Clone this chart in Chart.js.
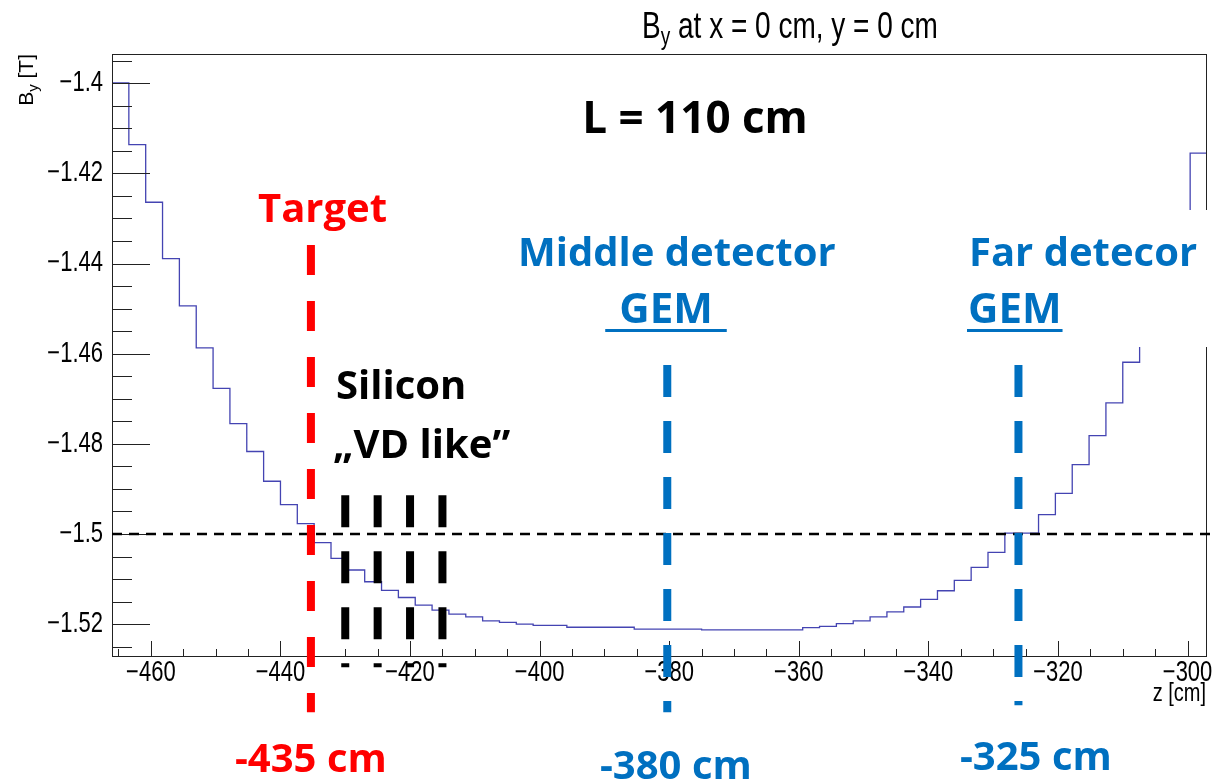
<!DOCTYPE html>
<html>
<head>
<meta charset="utf-8">
<script src="https://cdn.jsdelivr.net/npm/chart.js@4.4.0/dist/chart.umd.min.js"></script>
<style>
    html, body { margin: 0; padding: 0; background: #fff; }
    #wrap { width: 1212px; height: 783px; position: relative; }
</style>
</head>
<body>
<div id="wrap"><canvas id="byChart"></canvas></div>
<script>
// histogram bin edges, z [cm] (65 bins)
const zEdges = [
    -466.0, -463.4, -460.8, -458.2, -455.6, -453.0, -450.4, -447.8, -445.2, -442.6,
    -440.0, -437.4, -434.8, -432.2, -429.6, -427.0, -424.4, -421.8, -419.2, -416.6,
    -414.0, -411.4, -408.8, -406.2, -403.6, -401.0, -398.4, -395.8, -393.2, -390.6,
    -388.0, -385.4, -382.8, -380.2, -377.6, -375.0, -372.4, -369.8, -367.2, -364.6,
    -362.0, -359.4, -356.8, -354.2, -351.6, -349.0, -346.4, -343.8, -341.2, -338.6,
    -336.0, -333.4, -330.8, -328.2, -325.6, -323.0, -320.4, -317.8, -315.2, -312.6,
    -310.0, -307.4, -304.8, -302.2, -299.6, -297.0
];
// B_y [T] per bin
const byValues = [
    -1.3999, -1.4136, -1.4264, -1.4389, -1.4494, -1.4587, -1.4677, -1.4755, -1.4817, -1.4883,
    -1.4935, -1.4977, -1.5019, -1.5054, -1.5080, -1.5106, -1.5125, -1.5141, -1.5158, -1.5169,
    -1.5178, -1.5184, -1.5193, -1.5196, -1.5200, -1.5203, -1.5203, -1.5207, -1.5207, -1.5207,
    -1.5207, -1.5211, -1.5211, -1.5211, -1.5211, -1.5213, -1.5213, -1.5213, -1.5213, -1.5213,
    -1.5213, -1.5208, -1.5205, -1.5199, -1.5193, -1.5184, -1.5173, -1.5162, -1.5145, -1.5126,
    -1.5103, -1.5074, -1.5041, -1.4998, -1.4998, -1.4957, -1.4910, -1.4846, -1.4782, -1.4709,
    -1.4619, -1.4520, -1.4430, -1.4320, -1.4155
];

const xTickValues = [-460, -440, -420, -400, -380, -360, -340, -320, -300];
const xTickLabels = ['\u2212460', '\u2212440', '\u2212420', '\u2212400', '\u2212380', '\u2212360', '\u2212340', '\u2212320', '\u2212300'];
const yTickValues = [-1.4, -1.42, -1.44, -1.46, -1.48, -1.5, -1.52];
const yTickLabels = ['\u22121.4', '\u22121.42', '\u22121.44', '\u22121.46', '\u22121.48', '\u22121.5', '\u22121.52'];

const refLevel = -1.5;
const targetZ = -435.3;
const gemZ = [-380.3, -326.1];
const siliconZ = [-430, -425, -420, -415];

const RED = '#ff0000';
const BLUE = '#0070c0';
const ROOT_FONT = '"Liberation Sans", Arial, sans-serif';
const PPT_FONT = '"Open Sans", "Noto Sans", sans-serif';

// text squeezed like the ROOT canvas in the picture (taller than wide)
function tallText(ctx, str, x, y, size, align, sy) {
    ctx.save();
    ctx.translate(x, y);
    ctx.scale(1, sy);
    ctx.font = size + 'px ' + ROOT_FONT;
    ctx.textAlign = align;
    ctx.fillText(str, 0, 0);
    ctx.restore();
}

function pptText(ctx, str, x, y, size, color, align) {
    ctx.font = 'bold ' + size + 'px ' + PPT_FONT;
    ctx.fillStyle = color;
    ctx.textAlign = align || 'left';
    ctx.textBaseline = 'alphabetic';
    ctx.fillText(str, x, y);
    return ctx.measureText(str).width;
}

function dashedV(ctx, xs, ys, z, from, to, color, dash) {
    const px = xs.getPixelForValue(z);
    ctx.save();
    ctx.strokeStyle = color;
    ctx.lineWidth = 8;
    ctx.setLineDash(dash);
    ctx.beginPath();
    ctx.moveTo(px, ys.getPixelForValue(from));
    ctx.lineTo(px, ys.getPixelForValue(to));
    ctx.stroke();
    ctx.restore();
}

const rootStyle = {
    id: 'rootStyle',
    afterDraw(chart) {
        const {ctx, chartArea: a, scales: {x, y}} = chart;
        ctx.save();

        // frame
        ctx.strokeStyle = '#222';
        ctx.lineWidth = 1;
        ctx.strokeRect(a.left + 0.5, a.top + 0.5, a.width - 1, a.height - 1);

        // y ticks (inside)
        ctx.beginPath();
        for (let i = 0; i <= 26; i++) {
            const v = -1.395 - 0.005 * i;
            const major = i % 4 === 1;
            const py = Math.round(y.getPixelForValue(v)) + 0.5;
            ctx.moveTo(a.left, py);
            ctx.lineTo(a.left + (major ? 38 : 20), py);
        }
        // x ticks (inside)
        for (let i = 0; i <= 33; i++) {
            const v = -465 + 5 * i;
            const major = i % 4 === 1;
            const px = Math.round(x.getPixelForValue(v)) + 0.5;
            ctx.moveTo(px, a.bottom);
            ctx.lineTo(px, a.bottom - (major ? 16 : 8));
        }
        ctx.stroke();

        // tick labels
        ctx.fillStyle = '#000';
        ctx.textBaseline = 'middle';
        yTickValues.forEach((v, i) => {
            tallText(ctx, yTickLabels[i], a.left - 9, y.getPixelForValue(v), 22, 'right', 1.3);
        });
        xTickValues.forEach((v, i) => {
            tallText(ctx, xTickLabels[i], x.getPixelForValue(v), a.bottom + 16, 22, 'center', 1.3);
        });

        // axis titles
        ctx.textBaseline = 'alphabetic';
        tallText(ctx, 'z [cm]', chart.width - 6, a.bottom + 44, 20, 'right', 1.3);

        ctx.save();
        ctx.translate(33, a.top);
        ctx.rotate(-Math.PI / 2);
        ctx.font = '21px ' + ROOT_FONT;
        ctx.textAlign = 'right';
        const wT = ctx.measureText(' [T]').width;
        ctx.fillText(' [T]', 0, 0);
        ctx.font = '15px ' + ROOT_FONT;
        const wy = ctx.measureText('y').width;
        ctx.fillText('y', -wT, 5);
        ctx.font = '21px ' + ROOT_FONT;
        ctx.fillText('B', -wT - wy, 0);
        ctx.restore();

        // title
        ctx.save();
        ctx.translate(790, 38);
        ctx.scale(1, 1.35);
        ctx.font = '28px ' + ROOT_FONT;
        const wB = ctx.measureText('B').width;
        const rest = ' at x = 0 cm, y = 0 cm';
        const wR = ctx.measureText(rest).width;
        ctx.font = '19px ' + ROOT_FONT;
        const wSub = ctx.measureText('y').width;
        const x0 = -(wB + wSub + wR) / 2;
        ctx.textAlign = 'left';
        ctx.fillText('y', x0 + wB, 5);
        ctx.font = '28px ' + ROOT_FONT;
        ctx.fillText('B', x0, 0);
        ctx.fillText(rest, x0 + wB + wSub, 0);
        ctx.restore();

        // reference level B_y = -1.5 T
        ctx.save();
        ctx.strokeStyle = '#000';
        ctx.lineWidth = 2.5;
        ctx.setLineDash([10, 7]);
        const pr = y.getPixelForValue(refLevel);
        ctx.beginPath();
        ctx.moveTo(a.left, pr);
        ctx.lineTo(chart.width, pr);
        ctx.stroke();
        ctx.restore();

        // detector positions
        siliconZ.forEach(z => dashedV(ctx, x, y, z, -1.49139, -1.52957, '#000', [32, 24]));
        dashedV(ctx, x, y, targetZ, -1.43589, -1.53956, RED, [30, 26]);
        dashedV(ctx, x, y, gemZ[0], -1.46253, -1.53956, BLUE, [32, 24]);
        dashedV(ctx, x, y, gemZ[1], -1.46253, -1.53800, BLUE, [32, 24]);

        // white text box of the far detector label
        ctx.fillStyle = '#fff';
        ctx.fillRect(955, 210, chart.width - 955, 137);

        // annotation text
        pptText(ctx, 'L = 110 cm', 695, 133, 44, '#000', 'center');
        pptText(ctx, 'Target', 258, 222, 40, RED);
        pptText(ctx, 'Middle detector', 518, 266, 40, BLUE);
        let w = pptText(ctx, 'GEM', 666, 323, 42, BLUE, 'center');
        ctx.fillRect(666 - w / 2 - 14, 329, w + 28, 3);
        pptText(ctx, 'Far detecor', 969, 266, 40, BLUE);
        w = pptText(ctx, 'GEM', 968, 323, 42, BLUE);
        ctx.fillRect(967, 329, w + 2, 3);
        pptText(ctx, 'Silicon', 336, 399, 40, '#000');
        pptText(ctx, '\u201EVD like\u201D', 333, 458, 40, '#000');
        pptText(ctx, '-435 cm', 235, 772, 40, RED);
        pptText(ctx, '-380 cm', 600, 779, 40, BLUE);
        pptText(ctx, '-325 cm', 960, 770, 40, BLUE);

        ctx.restore();
    }
};

const histPoints = zEdges.map((z, i) => ({x: z, y: byValues[Math.min(i, byValues.length - 1)]}));

new Chart(document.getElementById('byChart'), {
    type: 'line',
    data: {
        datasets: [{
            label: 'B_y',
            data: histPoints,
            borderColor: '#4444b2',
            borderWidth: 1.3,
            pointRadius: 0,
            stepped: true,
            fill: false
        }]
    },
    options: {
        responsive: true,
        maintainAspectRatio: false,
        animation: false,
        layout: {
            padding: {left: 112, top: 54, right: 5, bottom: 126}
        },
        plugins: {
            legend: {display: false},
            tooltip: {enabled: false}
        },
        scales: {
            x: {type: 'linear', min: -466, max: -297, display: false},
            y: {type: 'linear', min: -1.5273, max: -1.3935, display: false}
        }
    },
    plugins: [rootStyle]
});
</script>
</body>
</html>
